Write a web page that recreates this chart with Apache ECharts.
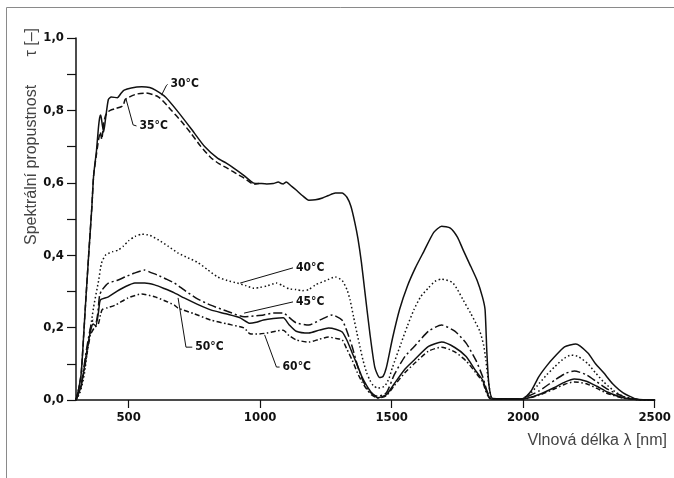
<!DOCTYPE html>
<html>
<head>
<meta charset="utf-8">
<script src="https://cdn.jsdelivr.net/npm/echarts@6/dist/echarts.min.js"></script>
<style>
html,body{margin:0;padding:0;background:#fff;}
#chart{width:674px;height:478px;}
</style>
</head>
<body>
<div id="chart"></div>
<script>
// ---- data (wavelength nm, transmittance) ----
var t30 = [[300,0],[310,0.03],[320,0.075],[335,0.25],[349,0.41],[360,0.53],[367,0.62],[378,0.69],[385,0.75],[390,0.78],[394,0.787],[400,0.76],[405,0.74],[412,0.775],[423,0.83],[434,0.837],[457,0.835],[472,0.848],[483,0.856],[510,0.862],[550,0.865],[580,0.863],[602,0.856],[640,0.837],[688,0.796],[737,0.75],[789,0.70],[838,0.668],[870,0.655],[901,0.64],[939,0.62],[976,0.599],[1000,0.598],[1025,0.597],[1050,0.598],[1069,0.602],[1080,0.598],[1088,0.597],[1099,0.602],[1120,0.59],[1137,0.58],[1160,0.565],[1185,0.552],[1210,0.553],[1237,0.558],[1260,0.565],[1286,0.572],[1312,0.572],[1330,0.56],[1345,0.535],[1360,0.49],[1372,0.445],[1385,0.38],[1398,0.3],[1417,0.185],[1436,0.09],[1454,0.062],[1467,0.065],[1480,0.09],[1503,0.17],[1530,0.25],[1560,0.315],[1590,0.365],[1622,0.41],[1660,0.463],[1690,0.48],[1723,0.475],[1750,0.45],[1772,0.414],[1800,0.37],[1825,0.33],[1845,0.285],[1855,0.25],[1862,0.13],[1870,0.04],[1884,0.004],[1950,0.003],[1996,0.002],[2030,0.025],[2059,0.064],[2090,0.095],[2120,0.12],[2157,0.147],[2200,0.155],[2246,0.13],[2275,0.1],[2306,0.075],[2340,0.045],[2380,0.02],[2432,0.002],[2500,0]];
var t35 = [[300,0],[310,0.03],[320,0.075],[335,0.25],[349,0.41],[360,0.53],[367,0.62],[378,0.68],[386,0.72],[392,0.74],[398,0.72],[405,0.765],[412,0.785],[420,0.795],[430,0.80],[450,0.805],[472,0.81],[480,0.815],[487,0.83],[500,0.836],[530,0.845],[565,0.848],[614,0.837],[663,0.80],[700,0.77],[737,0.737],[775,0.70],[812,0.67],[845,0.652],[876,0.64],[910,0.625],[939,0.613],[976,0.596],[995,0.598]];
var t40 = [[300,0],[315,0.02],[330,0.064],[349,0.166],[367,0.257],[386,0.33],[397,0.378],[412,0.40],[440,0.41],[460,0.414],[480,0.425],[500,0.44],[525,0.452],[550,0.458],[580,0.455],[614,0.442],[650,0.425],[688,0.406],[725,0.393],[763,0.38],[800,0.36],[838,0.34],[875,0.33],[913,0.323],[945,0.316],[976,0.309],[1000,0.311],[1025,0.315],[1062,0.323],[1085,0.316],[1110,0.307],[1137,0.305],[1160,0.302],[1185,0.305],[1210,0.318],[1250,0.33],[1286,0.34],[1312,0.33],[1330,0.305],[1342,0.276],[1355,0.23],[1368,0.185],[1380,0.145],[1391,0.11],[1405,0.075],[1417,0.055],[1430,0.04],[1447,0.033],[1473,0.038],[1490,0.06],[1503,0.09],[1536,0.157],[1560,0.205],[1585,0.25],[1610,0.285],[1640,0.31],[1665,0.328],[1690,0.334],[1730,0.325],[1750,0.305],[1772,0.276],[1800,0.24],[1835,0.19],[1850,0.15],[1858,0.11],[1868,0.05],[1878,0.008],[1890,0.003],[1990,0.003],[2000,0.005],[2030,0.02],[2060,0.045],[2090,0.07],[2120,0.092],[2150,0.112],[2182,0.124],[2210,0.12],[2246,0.10],[2275,0.075],[2306,0.05],[2340,0.028],[2380,0.01],[2432,0.001],[2500,0]];
var t45 = [[300,0],[320,0.045],[340,0.14],[355,0.2],[365,0.22],[375,0.215],[382,0.235],[390,0.29],[400,0.305],[423,0.323],[455,0.33],[487,0.34],[520,0.35],[561,0.359],[585,0.352],[610,0.345],[640,0.335],[674,0.323],[711,0.304],[760,0.28],[812,0.262],[875,0.245],[939,0.23],[975,0.232],[1013,0.235],[1050,0.24],[1088,0.24],[1110,0.228],[1137,0.213],[1185,0.207],[1230,0.222],[1275,0.235],[1312,0.22],[1330,0.19],[1350,0.147],[1372,0.09],[1390,0.055],[1410,0.028],[1430,0.015],[1447,0.01],[1480,0.02],[1510,0.07],[1550,0.12],[1585,0.147],[1640,0.19],[1690,0.207],[1740,0.19],[1783,0.157],[1820,0.11],[1846,0.064],[1860,0.03],[1875,0.005],[1890,0.003],[1990,0.003],[2000,0.004],[2060,0.025],[2120,0.055],[2160,0.073],[2194,0.08],[2240,0.07],[2280,0.05],[2320,0.03],[2380,0.01],[2440,0.001],[2500,0]];
var t50 = [[300,0],[320,0.04],[340,0.13],[355,0.19],[365,0.21],[375,0.205],[385,0.24],[390,0.27],[395,0.278],[423,0.285],[455,0.3],[487,0.313],[524,0.323],[561,0.323],[599,0.318],[635,0.308],[674,0.296],[711,0.282],[760,0.265],[812,0.249],[870,0.238],[924,0.227],[961,0.212],[985,0.215],[1013,0.221],[1050,0.225],[1088,0.227],[1110,0.208],[1137,0.19],[1185,0.185],[1225,0.193],[1260,0.199],[1290,0.195],[1312,0.188],[1330,0.165],[1350,0.13],[1370,0.095],[1387,0.064],[1405,0.04],[1424,0.02],[1447,0.006],[1480,0.015],[1510,0.045],[1550,0.085],[1585,0.11],[1640,0.148],[1690,0.16],[1740,0.145],[1783,0.12],[1820,0.08],[1846,0.055],[1860,0.025],[1875,0.004],[1890,0.003],[1990,0.003],[2000,0.003],[2060,0.015],[2120,0.035],[2160,0.05],[2194,0.058],[2240,0.052],[2280,0.038],[2320,0.022],[2380,0.006],[2440,0.001],[2500,0]];
var t60 = [[300,0],[320,0.04],[340,0.12],[355,0.18],[370,0.2],[385,0.21],[393,0.235],[400,0.25],[420,0.255],[449,0.262],[498,0.282],[550,0.293],[599,0.285],[635,0.275],[674,0.262],[688,0.254],[750,0.238],[812,0.221],[875,0.21],[939,0.199],[961,0.183],[990,0.182],[1025,0.185],[1060,0.19],[1088,0.193],[1110,0.178],[1137,0.166],[1185,0.16],[1225,0.168],[1260,0.174],[1290,0.17],[1312,0.166],[1330,0.14],[1350,0.11],[1370,0.075],[1387,0.05],[1405,0.03],[1424,0.014],[1447,0.005],[1480,0.012],[1510,0.04],[1550,0.075],[1585,0.1],[1640,0.135],[1690,0.146],[1740,0.133],[1783,0.108],[1820,0.075],[1846,0.05],[1860,0.02],[1875,0.003],[1890,0.003],[1990,0.003],[2000,0.003],[2060,0.013],[2120,0.031],[2160,0.044],[2194,0.05],[2240,0.045],[2280,0.032],[2320,0.018],[2380,0.005],[2440,0.001],[2500,0]];

var seriesNames = ['30°C','35°C','40°C','45°C','50°C','60°C'];
var xTickValues = [500,1000,1500,2000,2500];
var yLabelValues = [0,0.2,0.4,0.6,0.8,1.0];

// leader lines for the temperature labels (data coordinates)
var lead30 = [[625,0.842],[643,0.868],[648,0.872]];
var lead35 = [[490,0.832],[517,0.76],[530,0.757]];
var lead40 = [[924,0.323],[1125,0.365]];
var lead45 = [[939,0.24],[1125,0.271]];
var lead50 = [[688,0.282],[718,0.146],[742,0.146]];
var lead60 = [[1017,0.18],[1062,0.091],[1074,0.091]];

var INK = '#111';
var labelFont = "'DejaVu Sans Condensed','Liberation Sans Narrow',sans-serif";
var textFont = "'Liberation Sans',Arial,sans-serif";

var curveStyles = [
  {type:'solid'},
  {type:[6,3]},
  {type:[1.5,2.5]},
  {type:[9,3,2,3]},
  {type:'solid'},
  {type:[5,2.5,1.5,2.5]}
];
var curves = [t30,t35,t40,t45,t50,t60];
var leads = [lead30,lead35,lead40,lead45,lead50,lead60];

var series = [];
curves.forEach(function(d,i){
  series.push({
    name: seriesNames[i], type:'line', data:d, symbol:'none', smooth:0.2,
    silent:true, z:3,
    lineStyle:{color:INK, width:1.5, type:curveStyles[i].type}
  });
});
leads.forEach(function(d,i){
  series.push({
    name:'lead'+i, type:'line', data:d, symbol:'none', silent:true, z:4,
    lineStyle:{color:INK, width:1},
    endLabel:{show:true, formatter:seriesNames[i], distance:3,
      color:INK, fontFamily:labelFont, fontWeight:'bold', fontSize:12}
  });
});

var chart = echarts.init(document.getElementById('chart'), null, {renderer:'canvas'});
chart.setOption({
  animation:false,
  backgroundColor:'#fff',
  grid:{left:76, right:9, top:38, bottom:78, containLabel:false},
  xAxis:{
    type:'value', min:300, max:2500,
    axisLine:{show:true, onZero:false, lineStyle:{color:INK, width:1.5}},
    axisTick:{show:true, customValues:xTickValues, length:8, lineStyle:{color:INK, width:1.2}},
    axisLabel:{customValues:xTickValues, margin:11, color:INK, fontFamily:labelFont, fontWeight:'bold', fontSize:13,
      formatter:function(v){return String(v);}},
    splitLine:{show:false}
  },
  yAxis:{
    type:'value', min:0, max:1, interval:0.1,
    axisLine:{show:true, lineStyle:{color:INK, width:1.5}},
    axisTick:{show:true, length:9, lineStyle:{color:INK, width:1.2}},
    axisLabel:{customValues:yLabelValues, margin:12, color:INK, fontFamily:labelFont, fontWeight:'bold', fontSize:13,
      formatter:function(v){return v.toFixed(1).replace('.',',');}},
    splitLine:{show:false}
  },
  graphic:[
    {type:'line', shape:{x1:6.5,y1:7.5,x2:674,y2:7.5}, style:{stroke:'#8a8a8a', lineWidth:1}, silent:true},
    {type:'line', shape:{x1:6.5,y1:7.5,x2:6.5,y2:478}, style:{stroke:'#8a8a8a', lineWidth:1}, silent:true},
    {type:'text', x:32, y:245, rotation:Math.PI/2,
      style:{text:'Spektrální propustnost', fill:'#444', font:"16px "+textFont, align:'left', verticalAlign:'middle'}, silent:true},
    {type:'text', x:32, y:28, rotation:Math.PI/2,
      style:{text:'τ [–]', fill:'#444', font:"16px "+textFont, align:'right', verticalAlign:'middle'}, silent:true},
    {type:'text', x:667, y:441,
      style:{text:'Vlnová délka λ [nm]', fill:'#444', font:"16px "+textFont, align:'right', verticalAlign:'middle'}, silent:true}
  ],
  series:series
});
</script>
</body>
</html>
